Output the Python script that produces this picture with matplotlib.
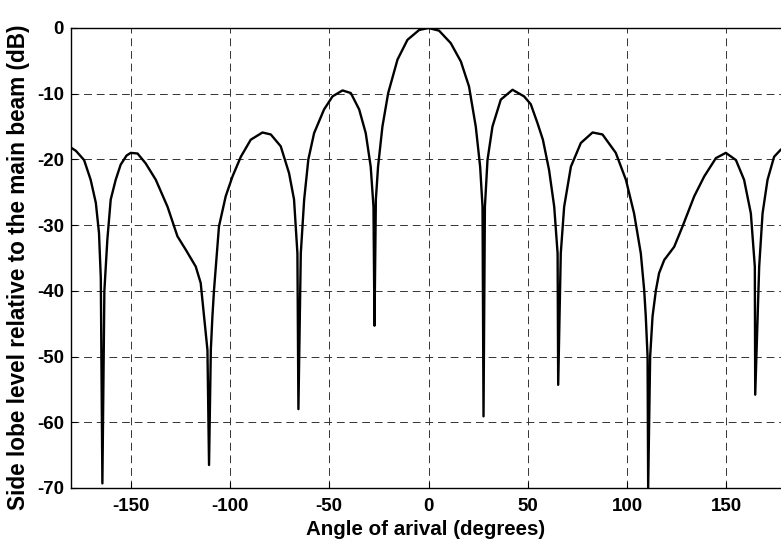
import matplotlib
matplotlib.use('Agg')
import matplotlib.pyplot as plt

# angle of arrival (deg) and side lobe level (dB)
angle_deg = [-180, -177.5, -173.4, -170.1, -167.5, -165.9, -165.0, -164.2, -163.2, -161.7,
             -160.0, -157.5, -155.0, -152.0, -149.9, -146.5, -142.4, -137.3, -131.4, -126.4,
             -122.1, -117.2, -114.7, -113.0, -111.3, -110.5, -109.6, -108.8, -108.0, -105.5,
             -102.1, -98.7, -94.5, -89.5, -83.6, -79.4, -74.4, -70.2, -67.7, -66.0,
             -65.5, -64.3, -62.6, -60.5, -57.6, -52.6, -48.3, -43.3, -39.1, -34.9,
             -31.6, -29.1, -27.7, -27.2, -26.5, -25.4, -23.2, -20.3, -15.6, -10.6,
             -4.7, 0.0, 5.3, 11.2, 16.3, 20.4, 23.8, 26.0, 27.2, 27.7,
             28.4, 29.7, 32.2, 36.4, 42.3, 48.1, 51.5, 54.9, 57.6, 60.7,
             63.3, 65.0, 65.3, 66.6, 68.3, 71.7, 76.7, 82.6, 87.6, 94.3,
             99.4, 103.5, 106.9, 108.6, 109.4, 110.3, 110.6, 111.6, 112.8, 114.5,
             116.1, 118.7, 123.7, 127.9, 133.8, 138.8, 144.7, 149.7, 154.8, 158.9,
             162.3, 164.3, 164.5, 166.5, 168.2, 170.7, 174.0, 177.4, 180]
level_db = [-18.2, -18.7, -20.1, -23.1, -26.6, -31.2, -38.0, -69.3, -40.0, -32.2,
            -26.1, -23.1, -20.8, -19.4, -19.0, -19.1, -20.6, -23.1, -27.2, -31.7,
            -33.8, -36.3, -38.8, -43.9, -49.0, -66.5, -49.0, -43.9, -39.9, -30.2,
            -25.6, -22.6, -19.6, -17.0, -15.9, -16.2, -18.0, -22.1, -26.1, -34.3,
            -58.0, -34.3, -26.1, -20.0, -16.0, -12.4, -10.4, -9.5, -9.9, -12.4,
            -16.0, -21.1, -27.2, -45.3, -26.1, -21.1, -15.0, -9.9, -4.8, -1.8,
            -0.3, 0.0, -0.4, -2.3, -5.1, -8.9, -15.0, -21.1, -27.2, -59.1,
            -27.2, -20.1, -15.0, -10.9, -9.4, -10.4, -11.6, -14.5, -17.0, -21.6,
            -27.2, -34.3, -54.3, -34.3, -27.2, -21.1, -17.5, -15.9, -16.2, -19.0,
            -23.1, -28.2, -34.3, -39.9, -43.9, -50.0, -70.0, -50.0, -43.9, -39.9,
            -37.3, -35.3, -33.3, -30.2, -25.6, -22.6, -19.8, -19.0, -20.1, -23.1,
            -28.2, -36.3, -55.8, -36.3, -28.2, -23.1, -19.6, -18.5, -18.2]

xticks = [-150, -100, -50, 0, 50, 100, 150]
yticks = [0, -10, -20, -30, -40, -50, -60, -70]

plt.rcParams['font.family'] = ['Liberation Sans', 'DejaVu Sans']
plt.rcParams['font.weight'] = 'bold'
plt.rcParams['axes.unicode_minus'] = False

fig = plt.figure(figsize=(7.81, 5.49), dpi=100)
# right spine sits just past the image edge, as in the reference
ax = fig.add_axes([71 / 781, 61 / 549, 715 / 781, 460 / 549])

ax.plot(angle_deg, level_db, color='black', lw=1.7, solid_joinstyle='round')

ax.set_xlim(-180, 180)
ax.set_ylim(-70, 0)
ax.set_xticks(xticks)
ax.set_yticks(yticks)
ax.tick_params(direction='in', length=4, labelsize=13.5, width=0.8)
ax.tick_params(axis='x', pad=7)
ax.tick_params(axis='y', pad=5)
for lbl in ax.get_xticklabels() + ax.get_yticklabels():
    lbl.set_fontweight('bold')
ax.grid(True, color='#333333', linestyle=(0, (8, 5)), lw=0.7)
for s in ax.spines.values():
    s.set_linewidth(1.0)

ax.set_xlabel('Angle of arival (degrees)', fontsize=14.8, fontweight='bold')
ax.set_ylabel('Side lobe level relative to the main beam (dB)', fontsize=16.3,
              fontweight='bold')
ax.xaxis.set_label_coords(0.496, -0.07)
ax.yaxis.set_label_coords(-0.058, 0.48)

fig.savefig('out.png', dpi=100)
